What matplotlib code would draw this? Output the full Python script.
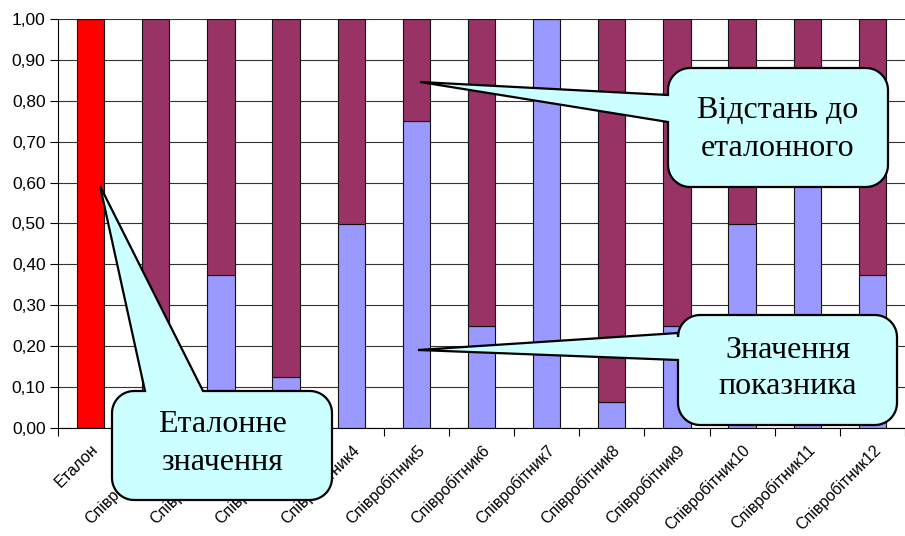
import numpy as np
import matplotlib.pyplot as plt
from matplotlib.path import Path
from matplotlib.patches import PathPatch
from matplotlib.ticker import FuncFormatter, MultipleLocator
from matplotlib.transforms import ScaledTranslation

categories = ['Еталон'] + ['Співробітник%d' % i for i in range(1, 13)]
value = [1.0, 0.25, 0.375, 0.125, 0.5, 0.75, 0.25, 1.0, 0.0625, 0.25, 0.5, 0.625, 0.375]
distance = [0.0] + [1.0 - v for v in value[1:]]

W, H = 905, 536
fig = plt.figure(figsize=(W / 100, H / 100), dpi=100)
ax = fig.add_axes([58 / W, 1 - 428 / H, (W - 58) / W, 409 / H])

x = np.arange(len(categories))
colors = ['#FF0000'] + ['#9999FF'] * 12
ax.bar(x, value, width=0.42, color=colors, edgecolor='#111111', linewidth=0.8, zorder=2)
ax.bar(x, distance, width=0.42, bottom=value, color='#993366', edgecolor='#111111',
       linewidth=0.8, zorder=2)

ax.set_xlim(-0.5, -0.5 + (W - 58) / 66)
ax.set_ylim(0, 1)
ax.yaxis.set_major_locator(MultipleLocator(0.1))
ax.yaxis.set_major_formatter(FuncFormatter(lambda v, p: ('%.2f' % v).replace('.', ',')))
ax.grid(axis='y', color='#333333', linewidth=0.8, zorder=0)
for s in ['top', 'right']:
    ax.spines[s].set_visible(False)
ax.spines['left'].set_linewidth(0.8)
ax.spines['bottom'].set_linewidth(0.8)

ax.set_xticks(x)
ax.set_xticklabels(categories, rotation=45, ha='right', rotation_mode='anchor',
                   fontsize=11.5, family='Liberation Sans')
shift = ScaledTranslation(-6 / 100, 0, fig.dpi_scale_trans)
for t in ax.get_xticklabels():
    t.set_transform(t.get_transform() + shift)
ax.set_xticks(np.arange(-0.5, 13, 1), minor=True)
ax.tick_params(axis='x', which='major', length=0, pad=10)
ax.tick_params(axis='x', which='minor', length=6, width=0.8, direction='out')
ax.tick_params(axis='y', length=6, width=0.8, labelsize=12.5, pad=3)
for t in ax.get_yticklabels():
    t.set_family('Liberation Sans')


def callout(x0, y0, x1, y1, r, side, a, b, tip):
    # pixel coords, y pointing down
    pts = []

    def arc(cx, cy, t0, t1):
        for t in np.linspace(np.radians(t0), np.radians(t1), 12):
            pts.append((cx + r * np.cos(t), cy + r * np.sin(t)))

    pts.append((x0 + r, y0))
    if side == 'top':
        pts += [(a, y0), tip, (b, y0)]
    arc(x1 - r, y0 + r, -90, 0)
    arc(x1 - r, y1 - r, 0, 90)
    arc(x0 + r, y1 - r, 90, 180)
    if side == 'left':
        pts += [(x0, a), tip, (x0, b)]
    arc(x0 + r, y0 + r, 180, 270)
    pts.append(pts[0])
    verts = [(px / W, 1 - py / H) for px, py in pts]
    path = Path(verts, closed=True)
    patch = PathPatch(path, transform=fig.transFigure, facecolor='#CCFFFF',
                      edgecolor='black', linewidth=1.6, zorder=5)
    fig.add_artist(patch)
    return patch


def label(lines, cx, ys):
    for s, yy in zip(lines, ys):
        fig.text(cx / W, 1 - yy / H, s, ha='center', va='center', fontsize=23,
                 family='Liberation Serif', zorder=6)


callout(112, 391, 332, 500, 22, 'top', 145, 203, (100, 186))
label(['Еталонне', 'значення'], 222, [425, 462])

callout(668, 68, 888, 187, 22, 'left', 122, 95, (420, 82))
label(['Відстань до', 'еталонного'], 778, [110, 148])

callout(678, 315, 897, 425, 22, 'left', 360, 333, (418, 350))
label(['Значення', 'показника'], 788, [350, 387])

fig.savefig('out.png', dpi=100)
